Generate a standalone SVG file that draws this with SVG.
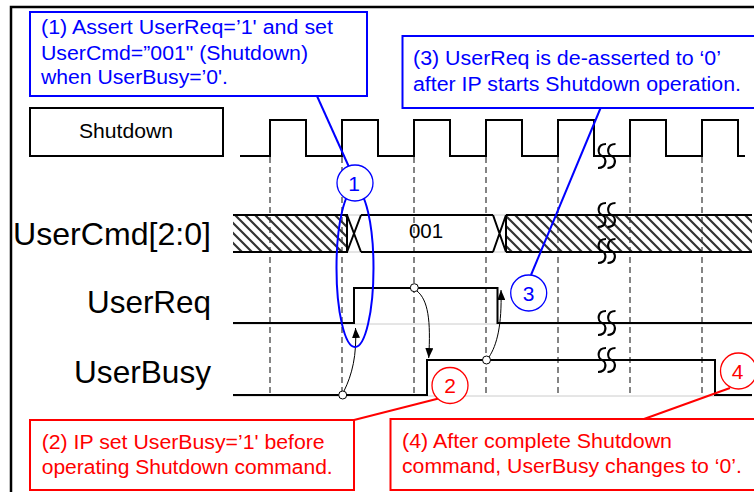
<svg xmlns="http://www.w3.org/2000/svg" width="754" height="492" viewBox="0 0 754 492">
<style>
.wave{fill:none;stroke:#000;stroke-width:2;stroke-linejoin:miter}
.ref{fill:none;stroke:#cccccc;stroke-width:1}
.dash{fill:none;stroke:#666;stroke-width:1.6;stroke-dasharray:6 4}
.sq{fill:none;stroke:#000;stroke-width:2.2}
.arr{fill:none;stroke:#000;stroke-width:1}
.mk{fill:#fff;stroke:#000;stroke-width:1}
.lbl{font-family:"Liberation Sans",Arial,sans-serif;font-size:31.5px;fill:#000}
.txt{font-family:"Liberation Sans",Arial,sans-serif;font-size:19.5px}
.blue{fill:#0000ff}
.red{fill:#ff0000}
.bbox{fill:#fff;stroke:#0000ff;stroke-width:2}
.rbox{fill:#fff;stroke:#ff0000;stroke-width:2}
.bc{fill:#fff;stroke:#0000ff;stroke-width:1.3}
.rc{fill:#fff;stroke:#ff0000;stroke-width:1.3}
.num{font-family:"Liberation Sans",Arial,sans-serif;font-size:21px;text-anchor:middle}
</style>
<defs>
<pattern id="hatch" patternUnits="userSpaceOnUse" width="10" height="10">
<path d="M0,0 L10,10 M-1,9 L1,11 M9,-1 L11,1" stroke="#333" stroke-width="2.2"/>
</pattern>
<marker id="ah" markerUnits="userSpaceOnUse" markerWidth="10" markerHeight="8" refX="10" refY="4" orient="auto">
<path d="M0,0 L10,4 L0,8 z" fill="#000"/>
</marker>
<g id="squig"><path class="sq" d="M8,-12 C-1,-12 -1,-2 4,0 C9,2 9,12 0,12 M17.5,-12 C8.5,-12 8.5,-2 13.5,0 C18.5,2 18.5,12 9.5,12"/></g>
</defs>

<g id="frame"><path d="M11,492 V7 H754" fill="none" stroke="#000" stroke-width="2.5"/></g>

<g id="shutdown-box">
<rect x="30" y="108" width="193" height="48" fill="#fff" stroke="#000" stroke-width="2"/>
<text x="126" y="137.5" text-anchor="middle" font-family="'Liberation Sans',Arial,sans-serif" font-size="20" textLength="94" lengthAdjust="spacingAndGlyphs">Shutdown</text>
</g>

<g id="labels">
<text class="lbl" x="211" y="245" text-anchor="end" textLength="198" lengthAdjust="spacingAndGlyphs">UserCmd[2:0]</text>
<text class="lbl" x="211" y="313" text-anchor="end" textLength="124" lengthAdjust="spacingAndGlyphs">UserReq</text>
<text class="lbl" x="211" y="383" text-anchor="end" textLength="137" lengthAdjust="spacingAndGlyphs">UserBusy</text>
</g>

<g id="gridlines">
<line class="dash" x1="270" y1="157" x2="270" y2="395"/>
<line class="dash" x1="342" y1="157" x2="342" y2="395"/>
<line class="dash" x1="414" y1="157" x2="414" y2="395"/>
<line class="dash" x1="486" y1="157" x2="486" y2="395"/>
<line class="dash" x1="558" y1="157" x2="558" y2="395"/>
<line class="dash" x1="630" y1="157" x2="630" y2="395"/>
<line class="dash" x1="702" y1="157" x2="702" y2="395"/>
</g>

<g id="clock">
<path class="wave" d="M240,156 H270 V120 H306 V156 H342 V120 H378 V156 H414 V120 H450 V156 H486 V120 H522 V156 H558 V120 H594 V156 H630 V120 H666 V156 H702 V120 H738 V156 H745"/>
<use href="#squig" x="598" y="156"/>
</g>

<g id="usercmd">
<line class="ref" x1="233" y1="215" x2="752" y2="215"/>
<line class="ref" x1="233" y1="252" x2="752" y2="252"/>
<rect x="233" y="215" width="114" height="37" fill="url(#hatch)"/>
<rect x="506" y="215" width="246" height="37" fill="url(#hatch)"/>
<path class="wave" d="M233,215 H347 V252 H233 M347,215 L361,252 M347,252 L361,215 M361,215 H493 M361,252 H493 M493,215 L506,252 M493,252 L506,215 M506,215 V252 M506,215 H752 M506,252 H752"/>
<text x="426" y="238" text-anchor="middle" font-family="'Liberation Sans',Arial,sans-serif" font-size="20.5">001</text>
<use href="#squig" x="598" y="215"/>
<use href="#squig" x="598" y="251"/>
</g>

<g id="userreq">
<line class="ref" x1="233" y1="324" x2="752" y2="324"/>
<path class="wave" d="M233,323 H354 V288 H497.5 V323 H752"/>
<use href="#squig" x="598" y="323"/>
</g>

<g id="userbusy">
<line class="ref" x1="233" y1="396" x2="752" y2="396"/>
<path class="wave" d="M233,395 H427 V360 H715 V395 H752"/>
<use href="#squig" x="598" y="360"/>
</g>

<g id="connectors">
<path class="arr" d="M344,391 C352,375 357,355 355.5,328" marker-end="url(#ah)"/>
<path class="arr" d="M417,291 C428,300 431,320 428.7,358" marker-end="url(#ah)"/>
<path class="arr" d="M489,357 C497,345 502,325 501,290" marker-end="url(#ah)"/>
<circle class="mk" cx="342.7" cy="395" r="4"/>
<circle class="mk" cx="414.3" cy="287.7" r="4"/>
<circle class="mk" cx="486.5" cy="360" r="4"/>
<line x1="317" y1="96" x2="349" y2="167" stroke="#0000ff" stroke-width="2"/>
<line x1="601" y1="107" x2="531" y2="275" stroke="#0000ff" stroke-width="2"/>
<line x1="354" y1="420" x2="440.5" y2="398" stroke="#ff0000" stroke-width="2"/>
<line x1="644" y1="419" x2="730" y2="388" stroke="#ff0000" stroke-width="2"/>
<ellipse cx="355" cy="268" rx="18.5" ry="79" fill="none" stroke="#0000ff" stroke-width="2"/>
</g>

<g id="marker1">
<circle class="bc" cx="355" cy="183" r="18"/>
<text class="num blue" x="354" y="191">1</text>
</g>
<g id="marker3">
<circle class="bc" cx="528.7" cy="293" r="18"/>
<text class="num blue" x="528.7" y="300.5">3</text>
</g>
<g id="marker2">
<circle class="rc" cx="450" cy="385.5" r="18"/>
<text class="num red" x="450" y="393">2</text>
</g>
<g id="marker4">
<circle class="rc" cx="738.5" cy="371" r="18"/>
<text class="num red" x="737.5" y="378.5">4</text>
</g>

<g id="callout1">
<rect class="bbox" x="30" y="12" width="337" height="84"/>
<text class="txt blue" x="41" y="34" textLength="292" lengthAdjust="spacingAndGlyphs">(1) Assert UserReq=’1' and set</text>
<text class="txt blue" x="41" y="59.5" textLength="267" lengthAdjust="spacingAndGlyphs">UserCmd=”001" (Shutdown)</text>
<text class="txt blue" x="41" y="84" textLength="187" lengthAdjust="spacingAndGlyphs">when UserBusy=’0'.</text>
</g>

<g id="callout3">
<rect class="bbox" x="402.5" y="36" width="360" height="72"/>
<text class="txt blue" x="413" y="65" textLength="308" lengthAdjust="spacingAndGlyphs">(3) UserReq is de-asserted to ‘0’</text>
<text class="txt blue" x="413" y="90.5" textLength="328" lengthAdjust="spacingAndGlyphs">after IP starts Shutdown operation.</text>
</g>

<g id="callout2">
<rect class="rbox" x="30" y="420" width="324" height="70"/>
<text class="txt red" x="41.7" y="448.7" textLength="283" lengthAdjust="spacingAndGlyphs">(2) IP set UserBusy=’1' before</text>
<text class="txt red" x="41.7" y="473.7" textLength="291" lengthAdjust="spacingAndGlyphs">operating Shutdown command.</text>
</g>

<g id="callout4">
<rect class="rbox" x="390.5" y="419" width="372" height="71"/>
<text class="txt red" x="402" y="448.3" textLength="270" lengthAdjust="spacingAndGlyphs">(4) After complete Shutdown</text>
<text class="txt red" x="402" y="473.3" textLength="340" lengthAdjust="spacingAndGlyphs">command, UserBusy changes to ‘0’.</text>
</g>
</svg>
